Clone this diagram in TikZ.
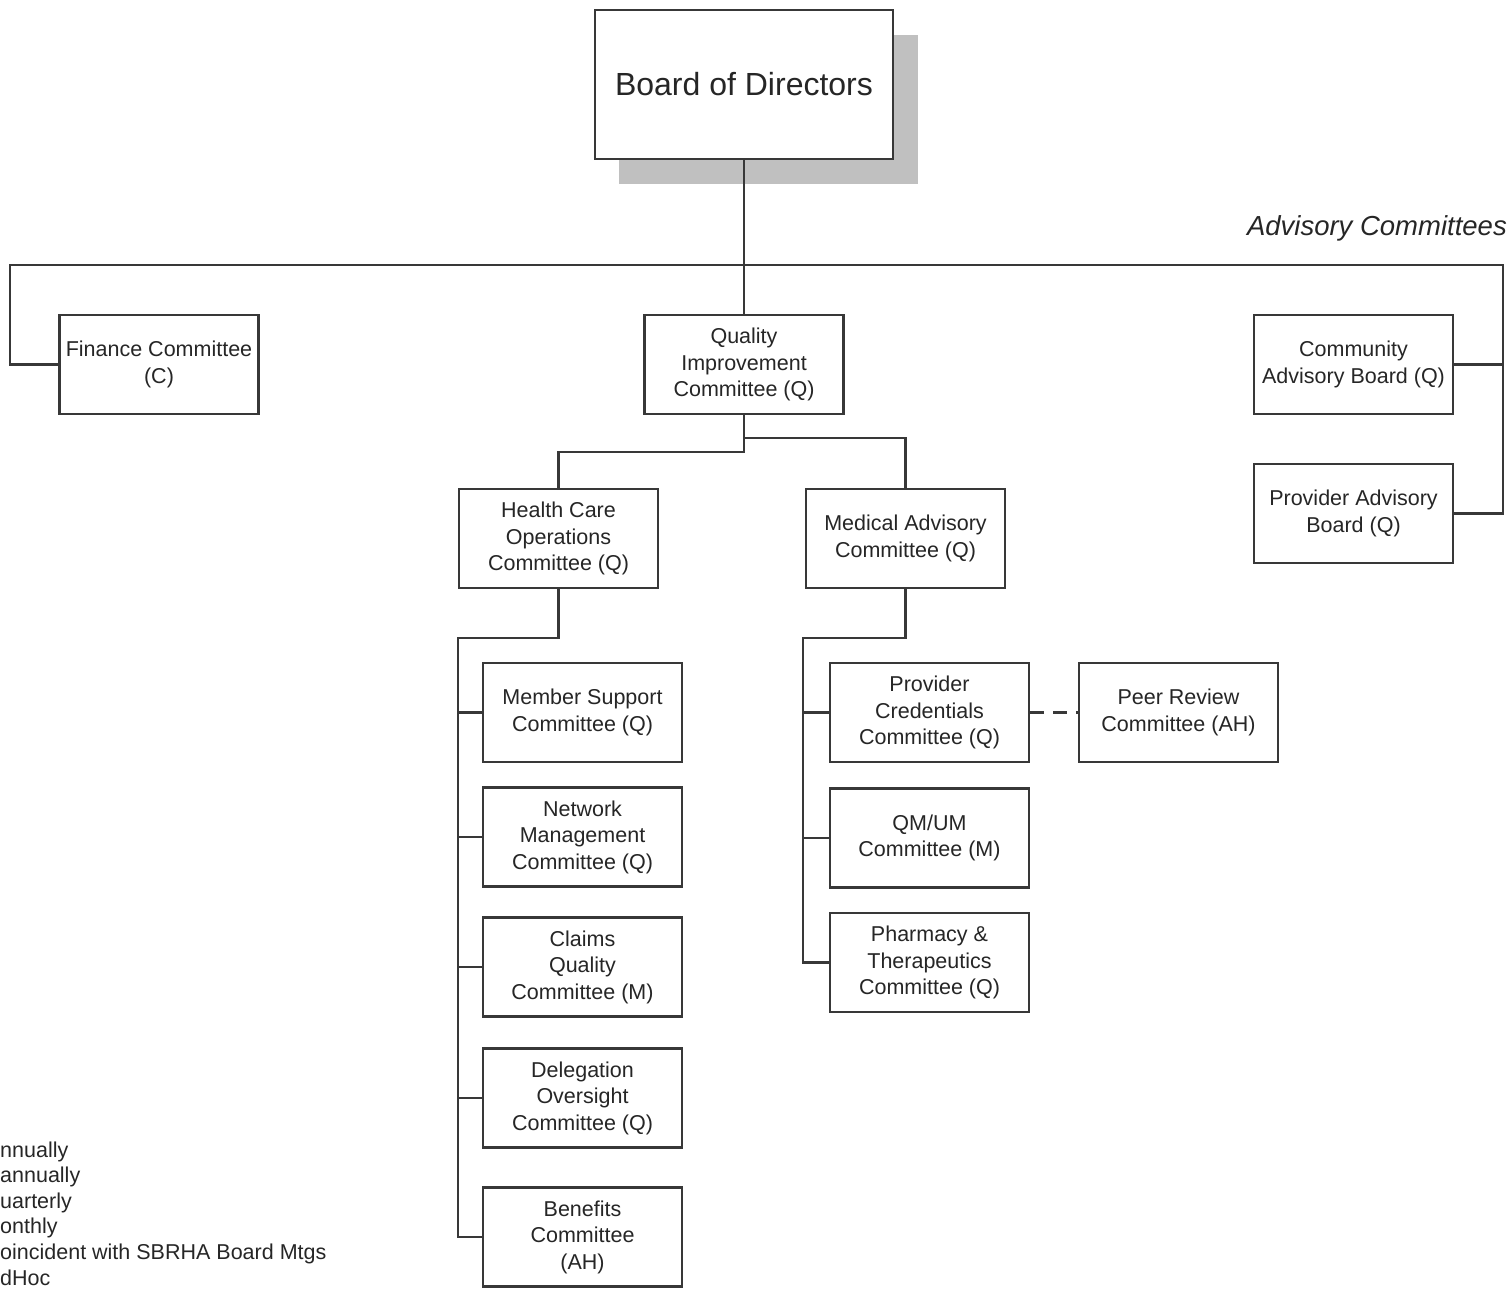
\documentclass[tikz,border=0pt]{standalone}
\usepackage{fontspec}
\setmainfont{Liberation Sans}
\definecolor{lncol}{HTML}{383838}
\definecolor{txcol}{HTML}{262626}
\definecolor{shcol}{HTML}{C0C0C0}
\begin{document}
\begin{tikzpicture}[x=1pt,y=-1pt,
  box/.style={draw=lncol,line width=2.2pt,fill=white,minimum width=199pt,minimum height=99pt,
    inner sep=0pt,align=center,text=txcol,font=\fontsize{21.5}{26.5}\selectfont},
  conn/.style={draw=lncol,line width=2.2pt},
  legend/.style={anchor=base west,inner sep=0pt,text=txcol,font=\fontsize{21.5}{26.5}\selectfont}]
\useasboundingbox (0,0) rectangle (1509,1288);
% shadow and board
\fill[shcol] (619,35) rectangle (918,184);
\node[box,minimum width=298pt,minimum height=149pt,font=\fontsize{32}{38}\selectfont] (board) at (744,84.5) {\raisebox{2pt}{Board of Directors}};
% level 1
\node[box] (fin) at (159,364.5) {Finance Committee\\(C)};
\node[box] (qi) at (744,364.5) {Quality\\Improvement\\Committee (Q)};
\node[box] (cab) at (1353.5,364.5) {Community\\Advisory Board (Q)};
\node[box] (pab) at (1353.5,513.5) {Provider Advisory\\Board (Q)};
% level 2
\node[box] (hco) at (558.5,538.5) {Health Care\\Operations\\Committee (Q)};
\node[box] (mac) at (905.5,538.5) {Medical Advisory\\Committee (Q)};
% HCO children
\node[box] (ms) at (582.5,712.5) {Member Support\\Committee (Q)};
\node[box] (nm) at (582.5,837) {Network\\Management\\Committee (Q)};
\node[box] (cq) at (582.5,967) {Claims\\Quality\\Committee (M)};
\node[box] (dos) at (582.5,1098) {Delegation\\Oversight\\Committee (Q)};
\node[box] (ben) at (582.5,1237) {Benefits\\Committee\\(AH)};
% MAC children
\node[box] (pc) at (929.5,712.5) {Provider\\Credentials\\Committee (Q)};
\node[box] (qm) at (929.5,838) {QM/UM\\Committee (M)};
\node[box] (pt) at (929.5,962.5) {Pharmacy \&\\Therapeutics\\Committee (Q)};
\node[box] (peer) at (1178.5,712.5) {Peer Review\\Committee (AH)};
% title
\node[anchor=base east,inner sep=0pt,text=txcol,font=\fontsize{27.5}{33}\selectfont\itshape] (adv) at (1507,235) {Advisory Committees};
% legend
\node[legend] (l1) at (0,1157) {nnually};
\node[legend] (l2) at (0,1182.6) {annually};
\node[legend] (l3) at (0,1208.2) {uarterly};
\node[legend] (l4) at (0,1233.8) {onthly};
\node[legend] (l5) at (0,1259.4) {oincident with SBRHA Board Mtgs};
\node[legend] (l6) at (0,1285) {dHoc};
% connectors
\coordinate (busL) at (10,265);
\coordinate (busR) at (1503,265);
\draw[conn] (board.south) -- (qi.north);
\draw[conn] (fin.west) -| (busL) -- (busR) |- (pab.east);
\draw[conn] (cab.east) -- (cab.east -| busR);
\coordinate (qiL) at (744,452);
\coordinate (qiR) at (744,438);
\draw[conn] (qi.south) -- (qiL) -| (hco.north);
\draw[conn] (qiR) -| (mac.north);
\coordinate (hcoT) at (458,638);
\draw[conn] (hco.south) |- (hcoT) |- (ben.west);
\foreach \n in {ms,nm,cq,dos} \draw[conn] (\n.west) -- (\n.west -| hcoT);
\coordinate (macT) at (803,638);
\draw[conn] (mac.south) |- (macT) |- (pt.west);
\foreach \n in {pc,qm} \draw[conn] (\n.west) -- (\n.west -| macT);
\draw[conn,line width=2.6pt,dash pattern=on 14pt off 9pt] (pc.east) -- (peer.west);
\end{tikzpicture}
\end{document}
